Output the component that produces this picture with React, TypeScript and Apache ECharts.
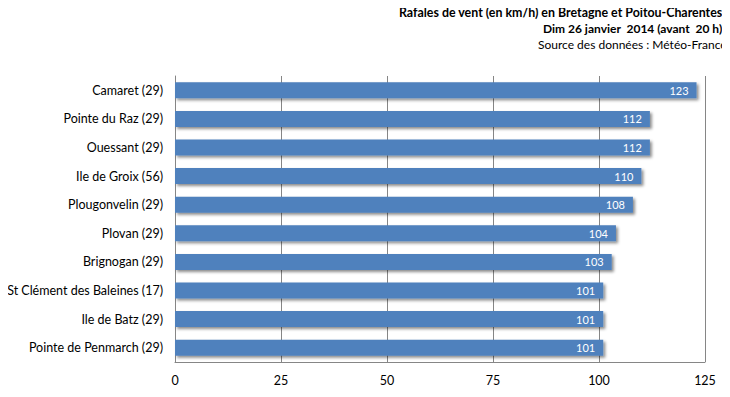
import React, { useEffect, useRef } from "react";
import * as echarts from "echarts";

const categories = [
  "Camaret (29)",
  "Pointe du Raz (29)",
  "Ouessant (29)",
  "Ile de Groix (56)",
  "Plougonvelin (29)",
  "Plovan (29)",
  "Brignogan (29)",
  "St Clément des Baleines (17)",
  "Ile de Batz (29)",
  "Pointe de Penmarch (29)",
];
const gusts = [123, 112, 112, 110, 108, 104, 103, 101, 101, 101];
const titleLines = [
  "Rafales de vent (en km/h) en Bretagne et Poitou-Charentes",
  "Dim 26 janvier  2014 (avant  20 h)",
  "Source des données : Météo-France",
];
const titleStarts = [399, 543, 538];
const titleSizes = [12.4, 12, 12];

const FONT = "Lato, 'Liberation Sans', sans-serif";

export default function App() {
  const ref = useRef<HTMLDivElement>(null);
  useEffect(() => {
    if (!ref.current) return;
    const chart = echarts.init(ref.current, null, { renderer: "svg" });
    chart.setOption({
      animation: false,
      backgroundColor: "#ffffff",
      textStyle: { fontFamily: FONT },
      graphic: titleLines.map((t, i) => ({
        type: "text",
        x: titleStarts[i],
        y: 12 + i * 16,
        style: {
          text: t,
          fontFamily: FONT,
          fontSize: titleSizes[i],
          fontWeight: i < 2 ? "bold" : "normal",
          fill: "#000",
          align: "left",
          verticalAlign: "middle",
        },
      })),
      grid: { left: 175, right: 25, top: 76, bottom: 35, containLabel: false },
      xAxis: {
        type: "value",
        min: 0,
        max: 125,
        interval: 25,
        axisLine: { show: true, lineStyle: { color: "#868686" } },
        axisTick: { show: false },
        axisLabel: { color: "#000", fontSize: 12.5, margin: 12, fontFamily: FONT },
        splitLine: { show: true, lineStyle: { color: "#868686", width: 1 } },
      },
      yAxis: {
        type: "category",
        data: categories,
        inverse: true,
        axisLine: { show: true, lineStyle: { color: "#868686" } },
        axisTick: { show: false },
        axisLabel: { color: "#000", fontSize: 12.5, margin: 12, fontFamily: FONT },
      },
      series: [
        {
          type: "bar",
          data: gusts,
          barWidth: 16,
          itemStyle: {
            color: "#4F81BD",
            shadowColor: "rgba(0,0,0,0.45)",
            shadowBlur: 3,
            shadowOffsetX: 2,
            shadowOffsetY: 2,
          },
          label: {
            show: true,
            position: "insideRight",
            color: "#fff",
            fontSize: 11,
            fontFamily: FONT,
            offset: [-3, 0],
          },
        },
      ],
    });
    return () => chart.dispose();
  }, []);
  return <div ref={ref} style={{ width: 730, height: 397, margin: -8 }} />;
}
